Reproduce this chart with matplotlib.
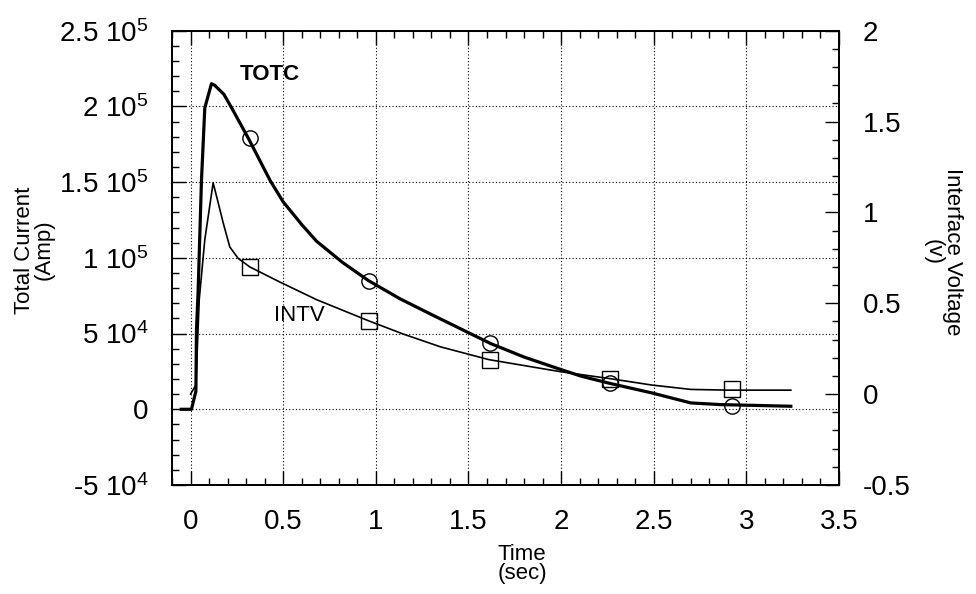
import matplotlib
matplotlib.use("Agg")
import matplotlib.pyplot as plt
import numpy as np

plt.rcParams['font.family'] = ['Liberation Sans', 'DejaVu Sans']
plt.rcParams['mathtext.fontset'] = 'custom'
plt.rcParams['mathtext.rm'] = 'Liberation Sans'
plt.rcParams['mathtext.it'] = 'Liberation Sans:italic'
plt.rcParams['mathtext.bf'] = 'Liberation Sans:bold'

# ---- data ----
totc_t = [-0.05, 0.005, 0.029, 0.032, 0.041, 0.059, 0.077, 0.113, 0.13, 0.18, 0.222,
          0.312, 0.43, 0.50, 0.60, 0.68, 0.82, 0.96, 1.13, 1.31, 1.62, 1.80, 2.0, 2.11,
          2.26, 2.49, 2.70, 2.86, 3.24]
totc = [0, 0, 0.12e5, 0.52e5, 0.78e5, 1.51e5, 1.99e5, 2.15e5, 2.14e5, 2.08e5, 1.99e5,
        1.79e5, 1.51e5, 1.37e5, 1.22e5, 1.11e5, 0.97e5, 0.85e5, 0.73e5, 0.62e5, 0.434e5,
        0.345e5, 0.262e5, 0.218e5, 0.172e5, 0.108e5, 0.042e5, 0.031e5, 0.02e5]

intv_t = [0.0, 0.029, 0.047, 0.077, 0.122, 0.15, 0.177, 0.212, 0.257, 0.32, 0.48, 0.68,
          0.96, 1.15, 1.35, 1.61, 2.0, 2.26, 2.49, 2.70, 2.9, 3.24]
intv = [0, 0.05, 0.52, 0.85, 1.163, 1.05, 0.94, 0.81, 0.747, 0.70, 0.618, 0.52,
        0.404, 0.33, 0.26, 0.19, 0.123, 0.086, 0.05, 0.026, 0.022, 0.022]

mk_t = [0.32, 0.965, 1.615, 2.265, 2.92]
totc_mk = [1.79e5, 0.85e5, 0.435e5, 0.172e5, 0.02e5]
intv_mk = [0.70, 0.404, 0.19, 0.086, 0.026]

x_ticks = [0, 0.5, 1, 1.5, 2, 2.5, 3, 3.5]
x_labels = ['0', '0.5', '1', '1.5', '2', '2.5', '3', '3.5']
yl_ticks = [-5e4, 0, 5e4, 1e5, 1.5e5, 2e5, 2.5e5]
yl_labels = [r'-5 $\mathregular{10^{4}}$', '0', r'5 $\mathregular{10^{4}}$',
             r'1 $\mathregular{10^{5}}$', r'1.5 $\mathregular{10^{5}}$',
             r'2 $\mathregular{10^{5}}$', r'2.5 $\mathregular{10^{5}}$']
yr_ticks = [-0.5, 0, 0.5, 1, 1.5, 2]
yr_labels = ['-0.5', '0', '0.5', '1', '1.5', '2']

fig = plt.figure(figsize=(9.76, 5.94), dpi=100)
ax = fig.add_axes([172/976, 1-485/594, (839-172)/976, (485-30.7)/594])
ax2 = ax.twinx()

ax.set_xlim(-0.1, 3.5)
ax.set_ylim(-5e4, 2.5e5)
ax2.set_ylim(-0.5, 2)

ax.set_xticks(x_ticks)
ax.set_xticklabels(x_labels)
ax.set_xticks(np.arange(-0.1, 3.51, 0.1), minor=True)
ax.set_yticks(yl_ticks)
ax.set_yticklabels(yl_labels)
ax.set_yticks(np.arange(-5e4, 2.51e5, 1e4), minor=True)
ax2.set_yticks(yr_ticks)
ax2.set_yticklabels(yr_labels)
ax2.set_yticks(np.arange(-0.5, 2.01, 0.1), minor=True)

ax.grid(which='major', color='k', linestyle=(0, (1, 2)), linewidth=0.8)

ax.tick_params(which='both', direction='in', top=True, right=False, labelsize=20,
               colors='k', pad=17)
ax.tick_params(which='major', length=10, width=1.0)
ax.tick_params(which='minor', length=5, width=1.0)
ax2.tick_params(which='both', direction='in', labelsize=20, pad=17)
ax2.tick_params(which='major', length=10, width=1.0)
ax2.tick_params(which='minor', length=5, width=1.0)

for a in (ax, ax2):
    for s in a.spines.values():
        s.set_linewidth(1.3)

ax.plot(totc_t, totc, color='k', linewidth=2.3, zorder=3, solid_joinstyle='round')
ax.plot(mk_t, totc_mk, linestyle='none', marker='o', markersize=11,
        markerfacecolor='none', markeredgecolor='k', markeredgewidth=1.0, zorder=4)
ax2.plot(intv_t, intv, color='k', linewidth=1.2, zorder=3, solid_joinstyle='round')
ax2.plot(mk_t, intv_mk, linestyle='none', marker='s', markersize=11,
         markerfacecolor='none', markeredgecolor='k', markeredgewidth=1.0, zorder=4)

ax.text(0.43, 2.21e5, 'TOTC', fontsize=16, fontweight='bold', ha='center', va='center')
ax.text(0.585, 0.62e5, 'INTV', fontsize=16, ha='center', va='center')

fig.text(34/976, 1-250/594, 'Total Current\n(Amp)', rotation=90, ha='center',
         va='center', multialignment='center', fontsize=16, linespacing=0.9)
fig.text(943/976, 1-252/594, 'Interface Voltage\n(v)', rotation=270, ha='center',
         va='center', multialignment='center', fontsize=16, linespacing=0.9)
fig.text(522/976, 1-564/594, 'Time\n(sec)', ha='center', va='center',
         multialignment='center', fontsize=16, linespacing=0.9)

fig.savefig('out.png', dpi=100)
